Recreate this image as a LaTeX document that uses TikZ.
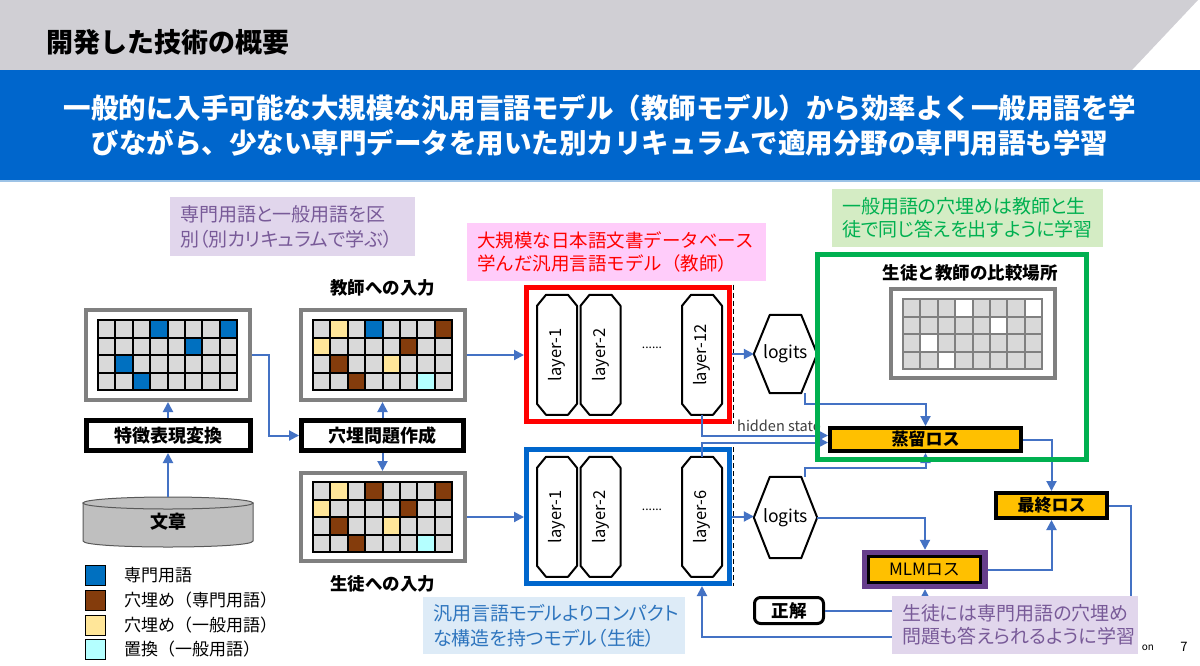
\documentclass[tikz,border=0pt]{standalone}
\usepackage{fontspec}
\setmainfont{Noto Sans CJK JP}
\usetikzlibrary{arrows.meta,calc}
\definecolor{hdrgray}{RGB}{208,207,212}
\definecolor{hdrblue}{RGB}{0,102,204}
\definecolor{hdrline}{RGB}{157,195,230}
\definecolor{cellgray}{RGB}{217,217,217}
\definecolor{cellblue}{RGB}{0,112,192}
\definecolor{cellbrown}{RGB}{132,60,12}
\definecolor{cellyellow}{RGB}{255,230,153}
\definecolor{cellcyan}{RGB}{180,255,255}
\definecolor{framegray}{RGB}{128,128,128}
\definecolor{arrowblue}{RGB}{68,114,196}
\definecolor{framered}{RGB}{255,0,0}
\definecolor{frameblue}{RGB}{0,102,204}
\definecolor{framegreen}{RGB}{0,176,80}
\definecolor{lossorange}{RGB}{255,192,0}
\definecolor{mlmpurple}{RGB}{102,62,140}
\definecolor{notepurplebg}{RGB}{225,214,236}
\definecolor{notepurpletx}{RGB}{120,90,152}
\definecolor{notepinkbg}{RGB}{255,204,250}
\definecolor{noteredtx}{RGB}{255,0,0}
\definecolor{notebluebg}{RGB}{221,235,247}
\definecolor{notebluetx}{RGB}{46,117,190}
\definecolor{notegreenbg}{RGB}{212,236,196}
\definecolor{notegreentx}{RGB}{0,176,80}
\definecolor{cylgray}{RGB}{191,191,191}
\definecolor{cylline}{RGB}{89,89,89}
\definecolor{hidtx}{RGB}{64,64,64}

\newcommand{\cellgrid}[3]{%
  \foreach \ci in {0,...,7}{\foreach \rj in {0,...,3}{
    \draw[line width=2pt, draw=#3, fill=cellgray] ({#1+\ci*17.4},{#2+\rj*17.5}) rectangle ++(17.4,17.5);}}}
\newcommand{\cellat}[6]{%
  \draw[line width=2pt, draw=#6, fill=#5] ({#1+#3*17.4},{#2+#4*17.5}) rectangle ++(17.4,17.5);}
\newcommand{\layerbox}[4]{%
  \node[minimum width=40pt, minimum height=120pt, inner sep=0pt] (#1) at (#2,#3) {};
  \draw[layerline] ($(#1.north)+(-11,0)$) -- ++(22,0) -- ++(9,11) -- ++(0,98) -- ++(-9,11) -- ++(-22,0) -- ++(-9,-11) -- ++(0,-98) -- cycle;
  \node[laytx] (#1t) at (#1) {#4};}
\newcommand{\hexnode}[4]{%
  \node[minimum width=63pt, minimum height=#4pt, inner sep=0pt, font=\fontsize{17.5}{20}\selectfont] (#1) at (#2,#3) {logits};
  \draw[hexline] (#1.west) -- ($(#1.north west)+(16,0)$) -- ($(#1.north east)+(-16,0)$) -- (#1.east) -- ($(#1.south east)+(-16,0)$) -- ($(#1.south west)+(16,0)$) -- cycle;}

\begin{document}
\begin{tikzpicture}[x=1pt,y=-1pt,
  gridframe/.style={draw=framegray, line width=4pt, fill=white, inner sep=0pt, minimum width=164pt},
  blackbox/.style={draw=black, line width=5pt, fill=white, inner sep=0pt, minimum height=30pt, font=\bfseries\fontsize{18}{20}\selectfont},
  lossbox/.style={draw=black, line width=4pt, fill=lossorange, inner sep=0pt, font=\bfseries\fontsize{17}{20}\selectfont},
  modelframe/.style={line width=5pt, minimum width=203pt, minimum height=134pt, inner sep=0pt},
  layerline/.style={draw=black, line width=2pt, fill=white, line join=round},
  hexline/.style={draw=black, line width=2pt, line join=round},
  arr/.style={draw=arrowblue, line width=2pt, -{Triangle[length=10pt,width=10pt]}},
  note/.style={inner xsep=10pt, inner ysep=0pt, align=left},
  lbl/.style={inner sep=0pt, font=\bfseries\fontsize{17.5}{20}\selectfont},
  legsq/.style={draw=black, line width=1pt, minimum size=20pt, inner sep=0pt},
  legtx/.style={anchor=west, inner sep=0pt, font=\fontsize{17}{20}\selectfont},
  laytx/.style={rotate=90, inner sep=0pt, font=\fontsize{16.5}{18}\selectfont},
  dashedge/.style={draw=black, line width=1.5pt, dash pattern=on 5pt off 3pt}]
\useasboundingbox (0,0) rectangle (1200,665);
\fill[white] (0,0) rectangle (1200,665);
% header
\fill[hdrgray] (0,0) -- (1198,0) -- (1132,70) -- (0,70) -- cycle;
\fill[hdrblue] (0,70) rectangle (1200,180);
\draw[hdrline, line width=1.5pt] (0,181) -- (1200,181);
\node[anchor=west, inner sep=0pt, font=\bfseries\fontsize{27}{30}\selectfont] (title) at (46,42) {開発した技術の概要};
\node[text=white, align=center, inner sep=0pt, font=\bfseries\fontsize{27.5}{35}\selectfont] (headline) at (600,125.5)
  {一般的に入手可能な大規模な汎用言語モデル（教師モデル）から効率よく一般用語を学\\びながら、少ない専門データを用いた別カリキュラムで適用分野の専門用語も学習};

% grids
\node[gridframe, minimum height=90pt] (g1) at (168,355) {};
\cellgrid{98}{320}{black}
\cellat{98}{320}{3}{0}{cellblue}{black}
\cellat{98}{320}{7}{0}{cellblue}{black}
\cellat{98}{320}{5}{1}{cellblue}{black}
\cellat{98}{320}{1}{2}{cellblue}{black}
\cellat{98}{320}{2}{3}{cellblue}{black}

\node[gridframe, minimum height=90pt] (g2) at (382.5,355) {};
\cellgrid{313}{320}{black}
\cellat{313}{320}{1}{0}{cellyellow}{black}
\cellat{313}{320}{3}{0}{cellblue}{black}
\cellat{313}{320}{7}{0}{cellbrown}{black}
\cellat{313}{320}{0}{1}{cellyellow}{black}
\cellat{313}{320}{5}{1}{cellbrown}{black}
\cellat{313}{320}{1}{2}{cellbrown}{black}
\cellat{313}{320}{4}{2}{cellyellow}{black}
\cellat{313}{320}{2}{3}{cellbrown}{black}
\cellat{313}{320}{6}{3}{cellcyan}{black}

\node[gridframe, minimum height=88pt] (g3) at (382.5,517) {};
\cellgrid{313}{482}{black}
\cellat{313}{482}{1}{0}{cellyellow}{black}
\cellat{313}{482}{3}{0}{cellbrown}{black}
\cellat{313}{482}{7}{0}{cellbrown}{black}
\cellat{313}{482}{0}{1}{cellyellow}{black}
\cellat{313}{482}{5}{1}{cellbrown}{black}
\cellat{313}{482}{1}{2}{cellbrown}{black}
\cellat{313}{482}{4}{2}{cellyellow}{black}
\cellat{313}{482}{2}{3}{cellbrown}{black}
\cellat{313}{482}{6}{3}{cellcyan}{black}

\node[lbl] (tin) at (382.5,288) {教師への入力};
\node[lbl] (sin) at (382.5,584) {生徒への入力};

% boxes
\node[blackbox, minimum width=164pt] (feat) at (168,435.5) {特徴表現変換};
\node[blackbox, minimum width=162pt] (hole) at (382.5,435.5) {穴埋問題作成};

% cylinder
\draw[cylline, line width=1pt, fill=cylgray] (83,503) -- (83,541) .. controls (83,549) and (253,549) .. (253,541) -- (253,503) -- cycle;
\draw[cylline, line width=1pt, fill=cylgray] (168,503) ellipse [x radius=85, y radius=6];
\node[minimum width=170pt, minimum height=50pt, inner sep=0pt, font=\bfseries\fontsize{18}{20}\selectfont] (doc) at (168,522) {文章};

% legend
\node[legsq, fill=cellblue] (lsq1) at (95,575) {};
\node[legtx] (ltx1) at (124,575) {専門用語};
\node[legsq, fill=cellbrown] (lsq2) at (95,600) {};
\node[legtx] (ltx2) at (124,600) {穴埋め（専門用語）};
\node[legsq, fill=cellyellow] (lsq3) at (95,625) {};
\node[legtx] (ltx3) at (124,625) {穴埋め（一般用語）};
\node[legsq, fill=cellcyan] (lsq4) at (95,649) {};
\node[legtx] (ltx4) at (124,649) {置換（一般用語）};

% model frames
\node[modelframe, draw=framered] (tframe) at (628,354) {};
\draw[dashedge] ($(tframe.north east)+(1.5,0)$) -- ($(tframe.south east)+(1.5,0)$);
\node[modelframe, draw=frameblue] (sframe) at (628,516.5) {};
\draw[dashedge] ($(sframe.north east)+(1.5,0)$) -- ($(sframe.south east)+(1.5,0)$);

\layerbox{tl1}{557}{355}{layer-1}
\layerbox{tl2}{600.5}{355}{layer-2}
\layerbox{tl12}{702}{355}{layer-12}
\node[inner sep=0pt, font=\fontsize{12}{14}\selectfont] (tdots) at (652,348) {......};
\layerbox{sl1}{557}{517}{layer-1}
\layerbox{sl2}{600.5}{517}{layer-2}
\layerbox{sl6}{702}{517}{layer-6}
\node[inner sep=0pt, font=\fontsize{12}{14}\selectfont] (sdots) at (652,510) {......};

\hexnode{tlog}{785.5}{354}{78}
\hexnode{slog}{785.5}{517.5}{81}

% comparison grid
\node[inner sep=0pt, font=\bfseries\fontsize{17.5}{20}\selectfont] (cmplbl) at (970,273) {生徒と教師の比較場所};
\node[gridframe, minimum height=89pt] (gcmp) at (973,333.5) {};
\cellgrid{903}{299}{framegray}
\cellat{903}{299}{3}{0}{white}{framegray}
\cellat{903}{299}{7}{0}{white}{framegray}
\cellat{903}{299}{5}{1}{white}{framegray}
\cellat{903}{299}{1}{2}{white}{framegray}
\cellat{903}{299}{2}{3}{white}{framegray}

% losses
\node[lossbox, minimum width=191pt, minimum height=23pt] (distill) at (925.5,439.5) {蒸留ロス};
\node[lossbox, minimum width=111pt, minimum height=25pt] (final) at (1051.5,505.5) {最終ロス};
\node[fill=mlmpurple, minimum width=126pt, minimum height=39pt, inner sep=0pt] (mlm) at (925,569.5) {};
\node[lossbox, line width=3pt, minimum width=112pt, minimum height=26pt, font=\fontsize{17}{20}\selectfont] (mlmin) at (924.5,569.5) {MLMロス};
\node[draw=black, line width=3pt, rounded corners=6pt, fill=white, minimum width=69pt, minimum height=26pt, inner sep=0pt, font=\bfseries\fontsize{17.5}{20}\selectfont] (seikai) at (789,610.5) {正解};

% connectors
\draw[arr] (doc.north) -- (feat.south);
\draw[arr] (feat.north) -- (g1.south);
\draw[arr] (g1.east) -- ++(17,0) |- (hole.west);
\draw[arr] (hole.north) -- (g2.south);
\draw[arr] (hole.south) -- (g3.north);
\draw[arr] (g2.east) -- (g2.east -| tframe.west);
\draw[arr] (g3.east) -- (g3.east -| sframe.west);
\draw[arr] (tframe.east) -- (tframe.east -| tlog.west);
\draw[arr] (sframe.east) -- (sframe.east -| slog.west);
\draw[arr] ($(tlog.south east)+(-12,0)$) |- ($(distill.north)+(0,-22)$) -- (distill.north);
\draw[arr] (tl12.south) |- ($(distill.west)+(0,-4)$);
\node[anchor=south west, inner sep=0pt, text=hidtx, font=\fontsize{14.5}{16}\selectfont] (hid) at (737,432) {hidden state};
\draw[arr] (sl6.north) |- ($(distill.west)+(0,3)$);
\draw[arr] ($(slog.north east)+(-12,0)$) |- ($(distill.south)+(0,15)$) -- (distill.south);
\draw[arr] (distill.east) -| (final.north);
\draw[arr] (slog.east) -| (mlm.north);
\draw[arr] (mlm.east) -| (final.south);
\draw[arr] (seikai.east) -| (mlm.south);
\coordinate (loopcorner) at (1131,637);
\draw[arr] (final.east) -| (loopcorner) -| (sl6.south |- sframe.south);

% green frame
\node[draw=framegreen, line width=5pt, minimum width=269pt, minimum height=205pt, inner sep=0pt] (gframe) at (952,357) {};

% notes
\node[note, fill=notepurplebg, text=notepurpletx, text width=225pt, minimum height=59pt, font=\fontsize{19}{25}\selectfont\addfontfeature{RawFeature=+palt}] (noteL) at (292.5,226.5)
  {専門用語と一般用語を区\\別（別カリキュラムで学ぶ）};
\node[note, fill=notepinkbg, text=noteredtx, text width=279pt, minimum height=58pt, font=\fontsize{18.5}{23}\selectfont] (noteT) at (616.5,252)
  {大規模な日本語文書データベース\\学んだ汎用言語モデル（教師）};
\node[note, fill=notebluebg, text=notebluetx, text width=242pt, minimum height=57pt, font=\fontsize{19}{25}\selectfont\addfontfeature{RawFeature=+palt}] (noteS) at (554,625.5)
  {汎用言語モデルよりコンパクト\\な構造を持つモデル（生徒）};
\node[note, fill=notegreenbg, text=notegreentx, text width=251pt, minimum height=58pt, font=\fontsize{19}{23}\selectfont\addfontfeature{RawFeature=+palt}] (noteG) at (967.5,218)
  {一般用語の穴埋めは教師と生\\徒で同じ答えを出すように学習};
\node[note, fill=notepurplebg, text=notepurpletx, text width=226pt, minimum height=58pt, font=\fontsize{19}{23}\selectfont\addfontfeature{RawFeature=+palt}] (noteB) at (1015,625)
  {生徒には専門用語の穴埋め\\問題も答えられるように学習};

% footer
\node[inner sep=0pt, font=\fontsize{10}{12}\selectfont] (footon) at (1148,648) {on};
\node[inner sep=0pt, font=\fontsize{13}{15}\selectfont] (pageno) at (1184,647) {7};
\end{tikzpicture}
\end{document}
